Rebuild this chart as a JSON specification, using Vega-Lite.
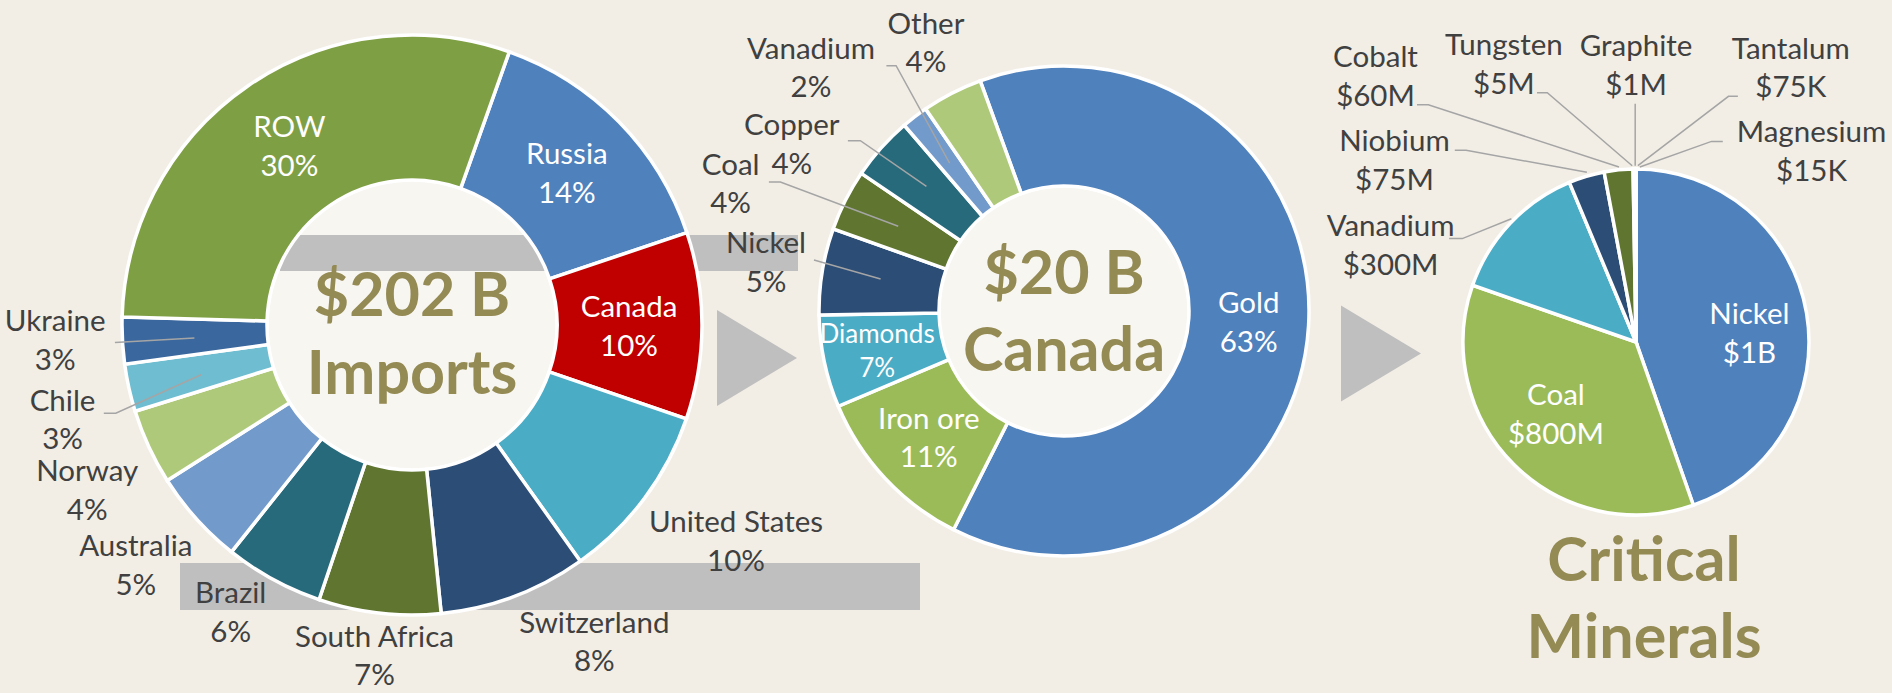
{
  "$schema": "https://vega.github.io/schema/vega-lite/v6.json",
  "background": "#f2eee6",
  "padding": 0,
  "spacing": 0,
  "bounds": "flush",
  "config": {"view": {"stroke": null}, "text": {"font": "Lato"}},
  "resolve": {"scale": {"color": "independent", "theta": "independent"}},
  "hconcat": [
    {
      "width": 824,
      "height": 650,
      "data": {"values": [
        {"country": "Russia", "value": 14.4, "label": "Russia\n14%"},
        {"country": "Canada", "value": 10.4, "label": "Canada\n10%"},
        {"country": "United States", "value": 9.9, "label": "United States\n10%"},
        {"country": "Switzerland", "value": 8.25, "label": "Switzerland\n8%"},
        {"country": "South Africa", "value": 6.8, "label": "South Africa\n7%"},
        {"country": "Brazil", "value": 5.5, "label": "Brazil\n6%"},
        {"country": "Australia", "value": 5.3, "label": "Australia\n5%"},
        {"country": "Norway", "value": 4.2, "label": "Norway\n4%"},
        {"country": "Chile", "value": 2.65, "label": "Chile\n3%"},
        {"country": "Ukraine", "value": 2.6, "label": "Ukraine\n3%"},
        {"country": "ROW", "value": 30.0, "label": "ROW\n30%"}
      ]},
      "transform": [{"window": [{"op": "row_number", "as": "idx"}]}],
      "layer": [
        {
          "data": {"values": [{"d": 1}]},
          "mark": {"type": "point", "shape": "M -1 -0.0635 L 1 -0.0635 L 1 0.0635 L -1 0.0635 Z", "size": 547600, "filled": true, "fill": "#bfbfbf", "opacity": 1, "strokeWidth": 0, "xOffset": 138, "yOffset": 261.5},
          "encoding": {}
        },
        {
          "data": {"values": [{"d": 1}]},
          "mark": {"type": "arc", "theta": 0, "theta2": 6.2832, "outerRadius": 145, "innerRadius": 0, "fill": "#f8f6f1", "stroke": "#ffffff", "strokeWidth": 3},
          "encoding": {}
        },
        {
          "data": {"values": [{"d": 1}]},
          "mark": {"type": "point", "shape": "M -1 -0.0695 L 1 -0.0695 L 1 0.0695 L -1 0.0695 Z", "size": 268324, "filled": true, "fill": "#bfbfbf", "opacity": 1, "strokeWidth": 0, "xOffset": 127, "yOffset": -72},
          "encoding": {}
        },
        {
          "data": {"values": [{"d": 1}]},
          "mark": {"type": "point", "shape": "M -0.833 -1 L 0.833 0 L -0.833 1 Z", "size": 9216, "filled": true, "fill": "#bfbfbf", "opacity": 1, "strokeWidth": 0, "xOffset": 345, "yOffset": 33},
          "encoding": {}
        },
        {
          "mark": {"type": "arc", "outerRadius": 290, "innerRadius": 145, "stroke": "#ffffff", "strokeWidth": 3.5},
          "encoding": {
            "theta": {"field": "value", "type": "quantitative", "stack": true, "scale": {"range": [0.3421, 6.6253]}},
            "order": {"field": "idx", "type": "quantitative"},
            "color": {"field": "country", "type": "nominal", "legend": null, "scale": {
              "domain": ["Russia", "Canada", "United States", "Switzerland", "South Africa", "Brazil", "Australia", "Norway", "Chile", "Ukraine", "ROW"],
              "range": ["#4f81bd", "#c00000", "#4bacc6", "#2c4d75", "#5f7530", "#276a7c", "#729aca", "#afc97a", "#6fbdd1", "#3a679d", "#7f9f44"]}}
          }
        },
        {
          "data": {"values": [{"d": 1}]},
          "mark": {"type": "point", "shape": "M -297.1 17.5 L -217.6 13 M -308.2 88.2 L -296.2 88.2 L -210.9 49.7", "size": 4, "filled": false, "color": "#a5a5a5", "opacity": 1, "strokeWidth": 1.5},
          "encoding": {}
        },
        {
          "mark": {"type": "text", "radius": 217, "dy": -17.5, "fontSize": 29.5, "lineHeight": 38.5, "lineBreak": "\n", "color": "#ffffff"},
          "encoding": {
            "theta": {"field": "value", "type": "quantitative", "stack": true, "scale": {"range": [0.3421, 6.6253]}},
            "order": {"field": "idx", "type": "quantitative"},
            "detail": {"field": "country"},
            "text": {"condition": {"test": "indexof(['ROW','Russia','Canada'], datum.country) >= 0", "field": "label"}, "value": ""}
          }
        },
        {
          "mark": {"type": "text", "radius": 340, "dx": -17.3, "dy": -21, "fontSize": 29.5, "lineHeight": 38.5, "lineBreak": "\n", "color": "#404040"},
          "encoding": {
            "theta": {"field": "value", "type": "quantitative", "stack": true, "scale": {"range": [0.3421, 6.6253]}},
            "order": {"field": "idx", "type": "quantitative"},
            "detail": {"field": "country"},
            "text": {"condition": {"test": "datum.country === 'Ukraine'", "field": "label"}, "value": ""}
          }
        },
        {
          "mark": {"type": "text", "radius": 358, "dy": -1, "fontSize": 29.5, "lineHeight": 38.5, "lineBreak": "\n", "color": "#404040"},
          "encoding": {
            "theta": {"field": "value", "type": "quantitative", "stack": true, "scale": {"range": [0.3421, 6.6253]}},
            "order": {"field": "idx", "type": "quantitative"},
            "detail": {"field": "country"},
            "text": {"condition": {"test": "datum.country === 'Chile'", "field": "label"}, "value": ""}
          }
        },
        {
          "mark": {"type": "text", "radius": 358, "dy": -3, "fontSize": 29.5, "lineHeight": 38.5, "lineBreak": "\n", "color": "#404040"},
          "encoding": {
            "theta": {"field": "value", "type": "quantitative", "stack": true, "scale": {"range": [0.3421, 6.6253]}},
            "order": {"field": "idx", "type": "quantitative"},
            "detail": {"field": "country"},
            "text": {"condition": {"test": "datum.country === 'Norway'", "field": "label"}, "value": ""}
          }
        },
        {
          "mark": {"type": "text", "radius": 340, "dx": -23.4, "dy": -5, "fontSize": 29.5, "lineHeight": 38.5, "lineBreak": "\n", "color": "#404040"},
          "encoding": {
            "theta": {"field": "value", "type": "quantitative", "stack": true, "scale": {"range": [0.3421, 6.6253]}},
            "order": {"field": "idx", "type": "quantitative"},
            "detail": {"field": "country"},
            "text": {"condition": {"test": "datum.country === 'Australia'", "field": "label"}, "value": ""}
          }
        },
        {
          "mark": {"type": "text", "radius": 334, "dy": -19, "fontSize": 29.5, "lineHeight": 38.5, "lineBreak": "\n", "color": "#404040"},
          "encoding": {
            "theta": {"field": "value", "type": "quantitative", "stack": true, "scale": {"range": [0.3421, 6.6253]}},
            "order": {"field": "idx", "type": "quantitative"},
            "detail": {"field": "country"},
            "text": {"condition": {"test": "datum.country === 'South Africa'", "field": "label"}, "value": ""}
          }
        },
        {
          "mark": {"type": "text", "radius": 337, "dx": -20, "dy": -26.5, "fontSize": 29.5, "lineHeight": 38.5, "lineBreak": "\n", "color": "#404040"},
          "encoding": {
            "theta": {"field": "value", "type": "quantitative", "stack": true, "scale": {"range": [0.3421, 6.6253]}},
            "order": {"field": "idx", "type": "quantitative"},
            "detail": {"field": "country"},
            "text": {"condition": {"test": "datum.country === 'Brazil'", "field": "label"}, "value": ""}
          }
        },
        {
          "mark": {"type": "text", "radius": 300, "dx": 83.5, "dy": 19.2, "fontSize": 29.5, "lineHeight": 38.5, "lineBreak": "\n", "color": "#404040"},
          "encoding": {
            "theta": {"field": "value", "type": "quantitative", "stack": true, "scale": {"range": [0.3421, 6.6253]}},
            "order": {"field": "idx", "type": "quantitative"},
            "detail": {"field": "country"},
            "text": {"condition": {"test": "datum.country === 'United States'", "field": "label"}, "value": ""}
          }
        },
        {
          "mark": {"type": "text", "radius": 300, "dx": 76.6, "dy": 18.1, "fontSize": 29.5, "lineHeight": 38.5, "lineBreak": "\n", "color": "#404040"},
          "encoding": {
            "theta": {"field": "value", "type": "quantitative", "stack": true, "scale": {"range": [0.3421, 6.6253]}},
            "order": {"field": "idx", "type": "quantitative"},
            "detail": {"field": "country"},
            "text": {"condition": {"test": "datum.country === 'Switzerland'", "field": "label"}, "value": ""}
          }
        },
        {
          "data": {"values": [{"d": 1}]},
          "mark": {"type": "text", "dy": -27, "fontSize": 61, "fontWeight": "bold", "lineHeight": 78, "color": "#948a54"},
          "encoding": {"text": {"value": ["$202 B", "Imports"]}}
        }
      ]
    },
    {
      "width": 480,
      "height": 622,
      "data": {"values": [
        {"name": "Gold", "value": 63.0, "label": "Gold\n63%"},
        {"name": "Iron ore", "value": 11.2, "label": "Iron ore\n11%"},
        {"name": "Diamonds", "value": 6.1, "label": "Diamonds\n7%"},
        {"name": "Nickel", "value": 5.7, "label": "Nickel\n5%"},
        {"name": "Coal", "value": 4.05, "label": "Coal\n4%"},
        {"name": "Copper", "value": 4.2, "label": "Copper\n4%"},
        {"name": "Vanadium", "value": 1.75, "label": "Vanadium\n2%"},
        {"name": "Other", "value": 4.0, "label": "Other\n4%"}
      ]},
      "transform": [{"window": [{"op": "row_number", "as": "idx"}]}],
      "layer": [
        {
          "data": {"values": [{"d": 1}]},
          "mark": {"type": "arc", "theta": 0, "theta2": 6.2832, "outerRadius": 125, "innerRadius": 0, "fill": "#f8f6f1", "stroke": "#ffffff", "strokeWidth": 3},
          "encoding": {}
        },
        {
          "data": {"values": [{"d": 1}]},
          "mark": {"type": "point", "shape": "M -0.833 -1 L 0.833 0 L -0.833 1 Z", "size": 9216, "filled": true, "fill": "#bfbfbf", "opacity": 1, "strokeWidth": 0, "xOffset": 317, "yOffset": 42.5},
          "encoding": {}
        },
        {
          "mark": {"type": "arc", "outerRadius": 245, "innerRadius": 125, "stroke": "#ffffff", "strokeWidth": 3.5},
          "encoding": {
            "theta": {"field": "value", "type": "quantitative", "stack": true, "scale": {"range": [-0.3491, 5.9341]}},
            "order": {"field": "idx", "type": "quantitative"},
            "color": {"field": "name", "type": "nominal", "legend": null, "scale": {
              "domain": ["Gold", "Iron ore", "Diamonds", "Nickel", "Coal", "Copper", "Vanadium", "Other"],
              "range": ["#4f81bd", "#9bbb59", "#4bacc6", "#2c4d75", "#5f7530", "#276a7c", "#729aca", "#afc97a"]}}
          }
        },
        {
          "data": {"values": [{"d": 1}]},
          "mark": {"type": "point", "shape": "M -177.6 -245.3 L -167.9 -245.3 L -114.4 -147.8 M -216.1 -170.3 L -203.6 -170.3 L -137.6 -124.6 M -295.1 -128.9 L -283.6 -128.9 L -165.8 -84.8 M -250 -51 L -183.4 -32", "size": 4, "filled": false, "color": "#a5a5a5", "opacity": 1, "strokeWidth": 1.5},
          "encoding": {}
        },
        {
          "mark": {"type": "text", "radius": 185, "dy": -17.5, "fontSize": 29.5, "lineHeight": 38.5, "lineBreak": "\n", "color": "#ffffff"},
          "encoding": {
            "theta": {"field": "value", "type": "quantitative", "stack": true, "scale": {"range": [-0.3491, 5.9341]}},
            "order": {"field": "idx", "type": "quantitative"},
            "detail": {"field": "name"},
            "text": {"condition": {"test": "indexof(['Gold','Iron ore'], datum.name) >= 0", "field": "label"}, "value": ""}
          }
        },
        {
          "mark": {"type": "text", "radius": 191, "dy": -15.3, "fontSize": 26, "lineHeight": 33.6, "lineBreak": "\n", "color": "#ffffff"},
          "encoding": {
            "theta": {"field": "value", "type": "quantitative", "stack": true, "scale": {"range": [-0.3491, 5.9341]}},
            "order": {"field": "idx", "type": "quantitative"},
            "detail": {"field": "name"},
            "text": {"condition": {"test": "datum.name === 'Diamonds'", "field": "label"}, "value": ""}
          }
        },
        {
          "mark": {"type": "text", "radius": 302, "dy": -17.5, "fontSize": 29.5, "lineHeight": 38.5, "lineBreak": "\n", "color": "#404040"},
          "encoding": {
            "theta": {"field": "value", "type": "quantitative", "stack": true, "scale": {"range": [-0.3491, 5.9341]}},
            "order": {"field": "idx", "type": "quantitative"},
            "detail": {"field": "name"},
            "text": {"condition": {"test": "indexof(['Nickel','Other'], datum.name) >= 0", "field": "label"}, "value": ""}
          }
        },
        {
          "mark": {"type": "text", "radius": 300, "dx": -65.8, "dy": -9.4, "fontSize": 29.5, "lineHeight": 38.5, "lineBreak": "\n", "color": "#404040"},
          "encoding": {
            "theta": {"field": "value", "type": "quantitative", "stack": true, "scale": {"range": [-0.3491, 5.9341]}},
            "order": {"field": "idx", "type": "quantitative"},
            "detail": {"field": "name"},
            "text": {"condition": {"test": "datum.name === 'Coal'", "field": "label"}, "value": ""}
          }
        },
        {
          "mark": {"type": "text", "radius": 300, "dx": -48.3, "dy": 14.8, "fontSize": 29.5, "lineHeight": 38.5, "lineBreak": "\n", "color": "#404040"},
          "encoding": {
            "theta": {"field": "value", "type": "quantitative", "stack": true, "scale": {"range": [-0.3491, 5.9341]}},
            "order": {"field": "idx", "type": "quantitative"},
            "detail": {"field": "name"},
            "text": {"condition": {"test": "datum.name === 'Copper'", "field": "label"}, "value": ""}
          }
        },
        {
          "mark": {"type": "text", "radius": 300, "dx": -70.2, "dy": -23.6, "fontSize": 29.5, "lineHeight": 38.5, "lineBreak": "\n", "color": "#404040"},
          "encoding": {
            "theta": {"field": "value", "type": "quantitative", "stack": true, "scale": {"range": [-0.3491, 5.9341]}},
            "order": {"field": "idx", "type": "quantitative"},
            "detail": {"field": "name"},
            "text": {"condition": {"test": "datum.name === 'Vanadium'", "field": "label"}, "value": ""}
          }
        },
        {
          "data": {"values": [{"d": 1}]},
          "mark": {"type": "text", "dy": -34.6, "fontSize": 61, "fontWeight": "bold", "lineHeight": 77, "color": "#948a54"},
          "encoding": {"text": {"value": ["$20 B", "Canada"]}}
        }
      ]
    },
    {
      "width": 588,
      "height": 684,
      "data": {"values": [
        {"mineral": "Nickel", "value": 1000, "label": "Nickel\n$1B"},
        {"mineral": "Coal", "value": 800, "label": "Coal\n$800M"},
        {"mineral": "Vanadium", "value": 300, "label": "Vanadium\n$300M"},
        {"mineral": "Niobium", "value": 75, "label": "Niobium\n$75M"},
        {"mineral": "Cobalt", "value": 60, "label": "Cobalt\n$60M"},
        {"mineral": "Tungsten", "value": 5, "label": "Tungsten\n$5M"},
        {"mineral": "Graphite", "value": 1, "label": "Graphite\n$1M"},
        {"mineral": "Tantalum", "value": 0.075, "label": "Tantalum\n$75K"},
        {"mineral": "Magnesium", "value": 0.015, "label": "Magnesium\n$15K"}
      ]},
      "transform": [{"window": [{"op": "row_number", "as": "idx"}]}],
      "layer": [
        {
          "mark": {"type": "arc", "outerRadius": 173, "xOffset": 38, "stroke": "#ffffff", "strokeWidth": 3.5},
          "encoding": {
            "theta": {"field": "value", "type": "quantitative", "stack": true, "scale": {"range": [0, 6.2832]}},
            "order": {"field": "idx", "type": "quantitative"},
            "color": {"field": "mineral", "type": "nominal", "legend": null, "scale": {
              "domain": ["Nickel", "Coal", "Vanadium", "Niobium", "Cobalt", "Tungsten", "Graphite", "Tantalum", "Magnesium"],
              "range": ["#4f81bd", "#9bbb59", "#4bacc6", "#2c4d75", "#5f7530", "#276a7c", "#729aca", "#afc97a", "#6fbdd1"]}}
          }
        },
        {
          "data": {"values": [{"d": 1}]},
          "mark": {"type": "point", "xOffset": 38, "shape": "M -219 -237.3 L -207.7 -237.3 L -17 -175 M -99 -249.2 L -88.7 -249.2 L -3.8 -176.3 M -0.8 -238.2 L -0.8 -176.3 M 101.9 -245.7 L 92.5 -245.7 L 1.9 -176.3 M 86.8 -200.6 L 75.5 -200.6 L 3.8 -175 M -181.2 -191.8 L -169.9 -191.8 L -49.1 -169.7 M -186.9 -103.4 L -173.7 -103.4 L -124.6 -123.3", "size": 4, "filled": false, "color": "#a5a5a5", "opacity": 1, "strokeWidth": 1.5},
          "encoding": {}
        },
        {
          "mark": {"type": "text", "radius": 110, "xOffset": 38, "dx": 5, "dy": -8.5, "fontSize": 29.5, "lineHeight": 38.5, "lineBreak": "\n", "color": "#ffffff"},
          "encoding": {
            "theta": {"field": "value", "type": "quantitative", "stack": true, "scale": {"range": [0, 6.2832]}},
            "order": {"field": "idx", "type": "quantitative"},
            "detail": {"field": "mineral"},
            "text": {"condition": {"test": "datum.mineral === 'Nickel'", "field": "label"}, "value": ""}
          }
        },
        {
          "mark": {"type": "text", "radius": 110, "xOffset": 38, "dx": -2.5, "dy": -23.5, "fontSize": 29.5, "lineHeight": 38.5, "lineBreak": "\n", "color": "#ffffff"},
          "encoding": {
            "theta": {"field": "value", "type": "quantitative", "stack": true, "scale": {"range": [0, 6.2832]}},
            "order": {"field": "idx", "type": "quantitative"},
            "detail": {"field": "mineral"},
            "text": {"condition": {"test": "datum.mineral === 'Coal'", "field": "label"}, "value": ""}
          }
        },
        {
          "mark": {"type": "text", "radius": 200, "xOffset": 38, "dx": -99.7, "dy": 22.3, "fontSize": 29.5, "lineHeight": 38.5, "lineBreak": "\n", "color": "#404040"},
          "encoding": {
            "theta": {"field": "value", "type": "quantitative", "stack": true, "scale": {"range": [0, 6.2832]}},
            "order": {"field": "idx", "type": "quantitative"},
            "detail": {"field": "mineral"},
            "text": {"condition": {"test": "datum.mineral === 'Vanadium'", "field": "label"}, "value": ""}
          }
        },
        {
          "mark": {"type": "text", "radius": 200, "xOffset": 38, "dx": -184.3, "dy": -8.1, "fontSize": 29.5, "lineHeight": 38.5, "lineBreak": "\n", "color": "#404040"},
          "encoding": {
            "theta": {"field": "value", "type": "quantitative", "stack": true, "scale": {"range": [0, 6.2832]}},
            "order": {"field": "idx", "type": "quantitative"},
            "detail": {"field": "mineral"},
            "text": {"condition": {"test": "datum.mineral === 'Niobium'", "field": "label"}, "value": ""}
          }
        },
        {
          "mark": {"type": "text", "radius": 200, "xOffset": 38, "dx": -240.3, "dy": -84.7, "fontSize": 29.5, "lineHeight": 38.5, "lineBreak": "\n", "color": "#404040"},
          "encoding": {
            "theta": {"field": "value", "type": "quantitative", "stack": true, "scale": {"range": [0, 6.2832]}},
            "order": {"field": "idx", "type": "quantitative"},
            "detail": {"field": "mineral"},
            "text": {"condition": {"test": "datum.mineral === 'Cobalt'", "field": "label"}, "value": ""}
          }
        },
        {
          "mark": {"type": "text", "radius": 200, "xOffset": 38, "dx": -130.1, "dy": -95.9, "fontSize": 29.5, "lineHeight": 38.5, "lineBreak": "\n", "color": "#404040"},
          "encoding": {
            "theta": {"field": "value", "type": "quantitative", "stack": true, "scale": {"range": [0, 6.2832]}},
            "order": {"field": "idx", "type": "quantitative"},
            "detail": {"field": "mineral"},
            "text": {"condition": {"test": "datum.mineral === 'Tungsten'", "field": "label"}, "value": ""}
          }
        },
        {
          "mark": {"type": "text", "radius": 200, "xOffset": 38, "dx": 0.3, "dy": -94.8, "fontSize": 29.5, "lineHeight": 38.5, "lineBreak": "\n", "color": "#404040"},
          "encoding": {
            "theta": {"field": "value", "type": "quantitative", "stack": true, "scale": {"range": [0, 6.2832]}},
            "order": {"field": "idx", "type": "quantitative"},
            "detail": {"field": "mineral"},
            "text": {"condition": {"test": "datum.mineral === 'Graphite'", "field": "label"}, "value": ""}
          }
        },
        {
          "mark": {"type": "text", "radius": 0, "xOffset": 38, "dx": 154.8, "dy": -292.5, "fontSize": 29.5, "lineHeight": 38.5, "lineBreak": "\n", "color": "#404040"},
          "encoding": {
            "theta": {"field": "value", "type": "quantitative", "stack": true, "scale": {"range": [0, 6.2832]}},
            "order": {"field": "idx", "type": "quantitative"},
            "detail": {"field": "mineral"},
            "text": {"condition": {"test": "datum.mineral === 'Tantalum'", "field": "label"}, "value": ""}
          }
        },
        {
          "mark": {"type": "text", "radius": 0, "xOffset": 38, "dx": 175.5, "dy": -208.6, "fontSize": 29.5, "lineHeight": 38.5, "lineBreak": "\n", "color": "#404040"},
          "encoding": {
            "theta": {"field": "value", "type": "quantitative", "stack": true, "scale": {"range": [0, 6.2832]}},
            "order": {"field": "idx", "type": "quantitative"},
            "detail": {"field": "mineral"},
            "text": {"condition": {"test": "datum.mineral === 'Magnesium'", "field": "label"}, "value": ""}
          }
        },
        {
          "data": {"values": [{"d": 1}]},
          "mark": {"type": "text", "xOffset": 38, "dx": 8, "dy": 220.5, "fontSize": 61, "fontWeight": "bold", "lineHeight": 77, "color": "#948a54"},
          "encoding": {"text": {"value": ["Critical", "Minerals"]}}
        }
      ]
    }
  ]
}
